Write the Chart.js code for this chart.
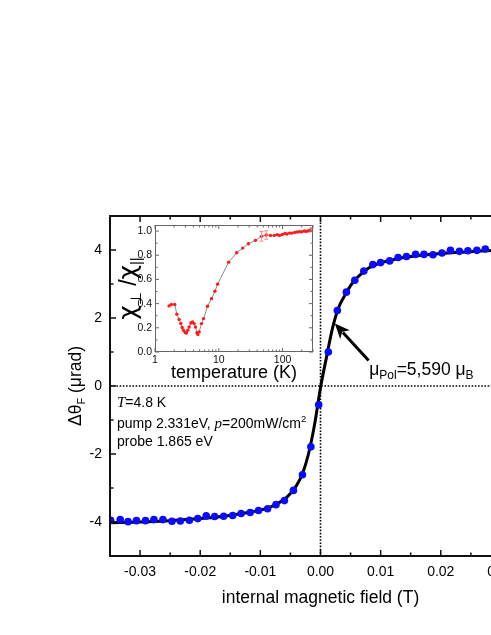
<!DOCTYPE html>
<html>
<head>
<meta charset="utf-8">
<script src="https://cdn.jsdelivr.net/npm/chart.js@4.4.1/dist/chart.umd.min.js"></script>
<style>
body { margin: 0; background: #fff; overflow: hidden; width: 491px; height: 635px; position: relative; }
#main { position: absolute; left: 0; top: 0; }
#inset { position: absolute; left: 100px; top: 215px; }
</style>
</head>
<body>
<canvas id="main" width="560" height="635"></canvas>
<canvas id="inset" width="230" height="175"></canvas>
<script>
var FONT = '"Liberation Sans", Arial, sans-serif';

// main plot: measured points (T, urad)
var fieldT = [-0.0349, -0.0333, -0.0320, -0.0306, -0.0291, -0.0277, -0.0262, -0.0247, -0.0233, -0.0218,
  -0.0204, -0.0190, -0.0176, -0.0161, -0.0146, -0.0132, -0.0117, -0.0103, -0.0088, -0.0074,
  -0.0060, -0.0045, -0.0030, -0.0016, -0.0003, 0.0013, 0.0028, 0.0043, 0.0057, 0.0072,
  0.0087, 0.0100, 0.0115, 0.0129, 0.0143, 0.0158, 0.0172, 0.0187, 0.0202, 0.0216,
  0.0231, 0.0245, 0.0260, 0.0274];
var theta = [-3.95, -3.93, -3.99, -3.96, -3.96, -3.93, -3.93, -3.98, -3.97, -3.95,
  -3.90, -3.82, -3.84, -3.83, -3.81, -3.75, -3.72, -3.66, -3.61, -3.49,
  -3.37, -3.07, -2.61, -1.79, -0.55, 1.00, 2.22, 2.76, 3.11, 3.38,
  3.57, 3.63, 3.68, 3.78, 3.81, 3.87, 3.87, 3.86, 3.91, 3.99,
  3.96, 3.98, 3.99, 4.03];

// fit curve
var fitT = [-0.035, -0.03, -0.025, -0.02, -0.016, -0.013, -0.01, -0.008, -0.006, -0.005, -0.004, -0.003, -0.002, -0.001,
  0, 0.001, 0.002, 0.003, 0.004, 0.005, 0.006, 0.007, 0.008, 0.01, 0.013, 0.016, 0.02, 0.025, 0.03, 0.035];
var fitTheta = [-4.02, -4.0, -3.96, -3.9, -3.83, -3.75, -3.65, -3.53, -3.33, -3.16, -2.93, -2.58, -2.0, -1.15,
  -0.05, 0.85, 1.7, 2.3, 2.65, 2.95, 3.17, 3.33, 3.47, 3.62, 3.75, 3.83, 3.9, 3.95, 4.0, 4.03];

var xTicks = [-0.03, -0.02, -0.01, 0, 0.01, 0.02, 0.03];
var xMinor = [-0.025, -0.015, -0.005, 0.005, 0.015, 0.025];
var yTicks = [-4, -2, 0, 2, 4];
var yMinor = [-3, -1, 1, 3];

// inset: chi_perp / chi_par vs temperature
var insetT = [1.66, 1.81, 2.04, 2.20, 2.39, 2.54, 2.66, 2.79, 2.97, 3.11, 3.27, 3.43, 3.65, 3.87, 4.11, 4.31, 4.54, 4.70, 4.93,
  5.36, 5.76, 6.66, 7.70, 8.71, 9.58, 14.3, 19.1, 23.7, 29.1, 37.6, 46.7, 55.4, 64.7, 74, 82.5, 89.8, 98.9,
  109, 117, 129, 140, 155, 170, 185, 201, 220, 236, 254, 273, 283];
var insetR = [0.381, 0.393, 0.393, 0.313, 0.269, 0.236, 0.202, 0.180, 0.161, 0.157, 0.180, 0.207, 0.240, 0.249, 0.235, 0.207, 0.160, 0.144, 0.166,
  0.235, 0.276, 0.378, 0.441, 0.502, 0.561, 0.743, 0.820, 0.859, 0.895, 0.923, 0.956, 0.967, 0.964, 0.964, 0.969, 0.964, 0.972,
  0.981, 0.975, 0.983, 0.983, 0.989, 0.992, 0.994, 0.994, 1.0, 0.997, 1.003, 1.003, 1.014];
var errT = [46.7, 55.4, 283];
var errR = [0.956, 0.967, 1.014];
var errSize = [0.04, 0.035, 0.015];

var tempTicks = [1, 10, 100];
var tempMinor = [2, 3, 4, 5, 6, 7, 8, 9, 20, 30, 40, 50, 60, 70, 80, 90, 200, 300];
var ratioTicks = [0, 0.2, 0.4, 0.6, 0.8, 1.0];
var ratioMinor = [0.1, 0.3, 0.5, 0.7, 0.9];

function pts(xs, ys) {
  var out = [];
  for (var i = 0; i < xs.length; i++) out.push({ x: xs[i], y: ys[i] });
  return out;
}

function drawTicks(ctx, scale, values, len, horiz, a) {
  values.forEach(function (v) {
    var p = scale.getPixelForValue(v);
    ctx.beginPath();
    if (horiz) {
      ctx.moveTo(p, a.bottom); ctx.lineTo(p, a.bottom - len);
      ctx.moveTo(p, a.top); ctx.lineTo(p, a.top + len);
    } else {
      ctx.moveTo(a.left, p); ctx.lineTo(a.left + len, p);
      ctx.moveTo(a.right, p); ctx.lineTo(a.right - len, p);
    }
    ctx.stroke();
  });
}

function runsWidth(ctx, runs) {
  var w = 0;
  runs.forEach(function (r) { ctx.font = r.f; w += ctx.measureText(r.t).width; });
  return w;
}
function drawRuns(ctx, x, y, runs) {
  runs.forEach(function (r) {
    ctx.font = r.f;
    ctx.fillText(r.t, x, y + (r.dy || 0));
    x += ctx.measureText(r.t).width;
  });
}

var mainDeco = {
  id: 'mainDeco',
  beforeDatasetsDraw: function (chart) {
    var ctx = chart.ctx, a = chart.chartArea;
    var x0 = chart.scales.x.getPixelForValue(0);
    var y0 = chart.scales.y.getPixelForValue(0);
    ctx.save();
    ctx.strokeStyle = '#000';
    ctx.lineWidth = 1.6;
    ctx.setLineDash([1.6, 1.6]);
    ctx.beginPath();
    ctx.moveTo(a.left, y0); ctx.lineTo(a.right, y0);
    ctx.moveTo(x0, a.top); ctx.lineTo(x0, a.bottom);
    ctx.stroke();
    ctx.restore();
  },
  afterDraw: function (chart) {
    var ctx = chart.ctx, a = chart.chartArea;
    var sx = chart.scales.x, sy = chart.scales.y;
    ctx.save();
    ctx.strokeStyle = '#111';
    ctx.lineWidth = 2;
    ctx.strokeRect(a.left, a.top, a.right - a.left, a.bottom - a.top);
    ctx.lineWidth = 1.5;
    drawTicks(ctx, sx, xTicks, 6, true, a);
    drawTicks(ctx, sx, xMinor, 3.5, true, a);
    drawTicks(ctx, sy, yTicks, 6, false, a);
    drawTicks(ctx, sy, yMinor, 3.5, false, a);

    ctx.fillStyle = '#000';
    ctx.textBaseline = 'alphabetic';
    // x title
    ctx.textAlign = 'center';
    ctx.font = '17.5px ' + FONT;
    ctx.fillText('internal magnetic field (T)', (a.left + a.right) / 2, 603);
    ctx.textAlign = 'left';

    // y title, rotated
    var yr = [
      { t: '\u0394\u03b8', f: '17.5px ' + FONT },
      { t: 'F', f: '11px ' + FONT, dy: 4 },
      { t: ' (\u03bcrad)', f: '17.5px ' + FONT }
    ];
    ctx.save();
    ctx.translate(81, (a.top + a.bottom) / 2);
    ctx.rotate(-Math.PI / 2);
    drawRuns(ctx, -runsWidth(ctx, yr) / 2, 0, yr);
    ctx.restore();

    // conditions text
    var tx = a.left + 7;
    drawRuns(ctx, tx, 407, [
      { t: 'T', f: 'italic 15px "Liberation Serif", serif' },
      { t: '=4.8 K', f: '14px ' + FONT }
    ]);
    drawRuns(ctx, tx, 428, [
      { t: 'pump 2.331eV, ', f: '14px ' + FONT },
      { t: 'p', f: 'italic 15px "Liberation Serif", serif' },
      { t: '=200mW/cm', f: '14px ' + FONT },
      { t: '2', f: '9.5px ' + FONT, dy: -6 }
    ]);
    drawRuns(ctx, tx, 446, [{ t: 'probe 1.865 eV', f: '14px ' + FONT }]);

    // arrow
    var tailX = sx.getPixelForValue(0.0080), tailY = sy.getPixelForValue(0.75);
    var tipX = sx.getPixelForValue(0.00238), tipY = sy.getPixelForValue(1.835);
    var ang = Math.atan2(tipY - tailY, tipX - tailX);
    var hl = 15, hw = 6.5;
    var bx = tipX - hl * Math.cos(ang), by = tipY - hl * Math.sin(ang);
    ctx.strokeStyle = '#000';
    ctx.lineWidth = 3;
    ctx.beginPath(); ctx.moveTo(tailX, tailY); ctx.lineTo(bx + 3 * Math.cos(ang), by + 3 * Math.sin(ang)); ctx.stroke();
    ctx.beginPath();
    ctx.moveTo(tipX, tipY);
    ctx.lineTo(bx + hw * Math.sin(ang), by - hw * Math.cos(ang));
    ctx.lineTo(bx + 4 * Math.cos(ang), by + 4 * Math.sin(ang));
    ctx.lineTo(bx - hw * Math.sin(ang), by + hw * Math.cos(ang));
    ctx.closePath();
    ctx.fill();

    drawRuns(ctx, sx.getPixelForValue(0.0081), sy.getPixelForValue(0.315), [
      { t: '\u03bc', f: '17.5px ' + FONT },
      { t: 'Pol', f: '12px ' + FONT, dy: 4 },
      { t: '=5,590 \u03bc', f: '17.5px ' + FONT },
      { t: 'B', f: '12px ' + FONT, dy: 4 }
    ]);
    ctx.restore();
  }
};

new Chart(document.getElementById('main'), {
  type: 'scatter',
  data: {
    datasets: [
      {
        label: 'data',
        data: pts(fieldT, theta),
        pointRadius: 3.8,
        pointBackgroundColor: '#0a0aff',
        pointBorderWidth: 0,
        showLine: false
      },
      {
        label: 'fit',
        data: pts(fitT, fitTheta),
        showLine: true,
        borderColor: '#000',
        borderWidth: 3,
        pointRadius: 0,
        cubicInterpolationMode: 'monotone'
      }
    ]
  },
  options: {
    responsive: false,
    animation: false,
    devicePixelRatio: 1,
    layout: { padding: { top: 216, right: 29, left: 0, bottom: 0 } },
    plugins: { legend: { display: false }, tooltip: { enabled: false } },
    scales: {
      x: {
        type: 'linear', min: -0.035, max: 0.035,
        afterFit: function (s) { s.height = 79; },
        afterBuildTicks: function (s) { s.ticks = xTicks.map(function (v) { return { value: v }; }); },
        grid: { display: false, drawTicks: false },
        border: { display: false },
        ticks: {
          autoSkip: false, maxRotation: 0, padding: 8, color: '#000',
          font: { family: FONT, size: 14 },
          callback: function (v) { return Math.abs(v) < 1e-9 ? '0.00' : v.toFixed(2); }
        }
      },
      y: {
        type: 'linear', min: -5, max: 5,
        afterFit: function (s) { s.width = 110; },
        afterBuildTicks: function (s) { s.ticks = yTicks.map(function (v) { return { value: v }; }); },
        grid: { display: false, drawTicks: false },
        border: { display: false },
        ticks: {
          autoSkip: false, padding: 8, color: '#000',
          font: { family: FONT, size: 14 },
          callback: function (v) { return String(v); }
        }
      }
    }
  },
  plugins: [mainDeco]
});

var insetDeco = {
  id: 'insetDeco',
  afterDatasetsDraw: function (chart) {
    var ctx = chart.ctx, sx = chart.scales.x, sy = chart.scales.y;
    ctx.save();
    ctx.strokeStyle = '#ff8a8a';
    ctx.lineWidth = 1;
    for (var i = 0; i < errT.length; i++) {
      var px = sx.getPixelForValue(errT[i]);
      var p1 = sy.getPixelForValue(errR[i] - errSize[i]);
      var p2 = sy.getPixelForValue(errR[i] + errSize[i]);
      ctx.beginPath();
      ctx.moveTo(px, p1); ctx.lineTo(px, p2);
      ctx.moveTo(px - 2, p1); ctx.lineTo(px + 2, p1);
      ctx.moveTo(px - 2, p2); ctx.lineTo(px + 2, p2);
      ctx.stroke();
    }
    ctx.restore();
  },
  afterDraw: function (chart) {
    var ctx = chart.ctx, a = chart.chartArea;
    var sx = chart.scales.x, sy = chart.scales.y;
    ctx.save();
    ctx.strokeStyle = '#666';
    ctx.lineWidth = 1;
    ctx.strokeRect(a.left + 0.5, a.top + 0.5, a.right - a.left - 1, a.bottom - a.top - 1);
    drawTicks(ctx, sx, tempTicks, 4, true, a);
    drawTicks(ctx, sx, tempMinor, 2.5, true, a);
    drawTicks(ctx, sy, ratioTicks, 4, false, a);
    drawTicks(ctx, sy, ratioMinor, 2.5, false, a);

    ctx.fillStyle = '#000';
    ctx.textAlign = 'center';
    ctx.textBaseline = 'alphabetic';
    ctx.font = '18px ' + FONT;
    ctx.fillText('temperature (K)', (a.left + a.right) / 2, 163);
    ctx.textAlign = 'left';

    var cr = [
      { t: '\u03c7', f: '25px "DejaVu Sans", sans-serif' },
      { t: '\u22a5', f: '15px "DejaVu Sans", sans-serif', dy: 5 },
      { t: ' /', f: '23px ' + FONT },
      { t: '\u03c7', f: '25px "DejaVu Sans", sans-serif' },
      { t: '||', f: '15px ' + FONT, dy: 5 }
    ];
    ctx.save();
    ctx.translate(36, (a.top + a.bottom) / 2);
    ctx.rotate(-Math.PI / 2);
    drawRuns(ctx, -runsWidth(ctx, cr) / 2, 0, cr);
    ctx.restore();
    ctx.restore();
  }
};

new Chart(document.getElementById('inset'), {
  type: 'scatter',
  data: {
    datasets: [{
      label: 'ratio',
      data: pts(insetT, insetR),
      showLine: true,
      borderColor: '#8c8c8c',
      borderWidth: 1,
      pointRadius: 1.7,
      pointBackgroundColor: '#ff1a1a',
      pointBorderWidth: 0
    }]
  },
  options: {
    responsive: false,
    animation: false,
    devicePixelRatio: 1,
    layout: { padding: { top: 10, right: 17, left: 0, bottom: 0 } },
    plugins: { legend: { display: false }, tooltip: { enabled: false } },
    scales: {
      x: {
        type: 'logarithmic', min: 1, max: 300,
        afterFit: function (s) { s.height = 38; },
        afterBuildTicks: function (s) { s.ticks = tempTicks.map(function (v) { return { value: v }; }); },
        grid: { display: false, drawTicks: false },
        border: { display: false },
        ticks: {
          autoSkip: false, maxRotation: 0, padding: 2, color: '#111',
          font: { family: FONT, size: 10.5 },
          callback: function (v) { return String(v); }
        }
      },
      y: {
        type: 'linear', min: 0, max: 1.05,
        afterFit: function (s) { s.width = 55; },
        afterBuildTicks: function (s) { s.ticks = ratioTicks.map(function (v) { return { value: v }; }); },
        grid: { display: false, drawTicks: false },
        border: { display: false },
        ticks: {
          autoSkip: false, padding: 3, color: '#111',
          font: { family: FONT, size: 10.5 },
          callback: function (v) { return v.toFixed(1); }
        }
      }
    }
  },
  plugins: [insetDeco]
});
</script>
</body>
</html>
